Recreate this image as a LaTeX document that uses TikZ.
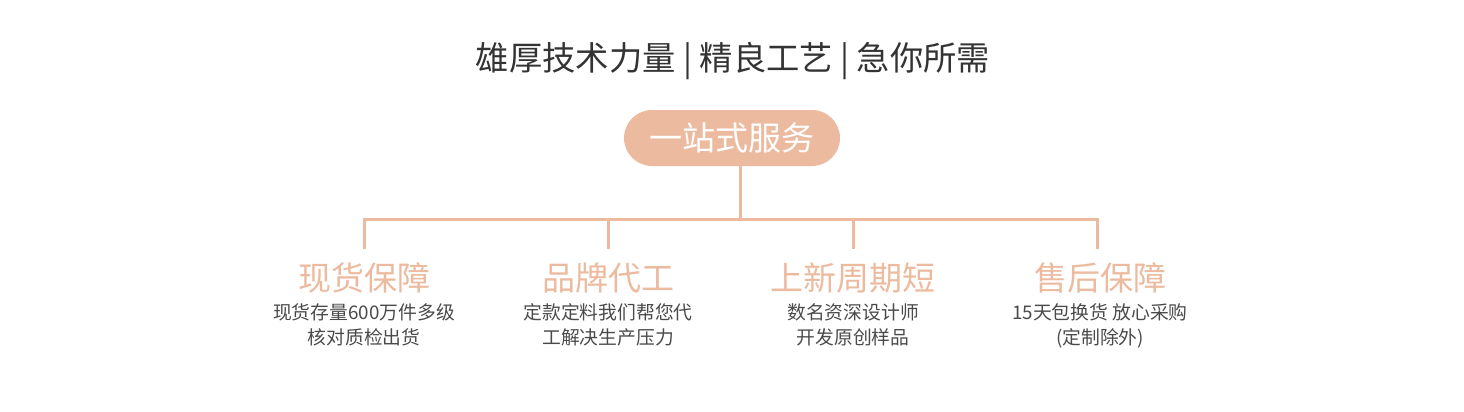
\documentclass[tikz,border=0pt]{standalone}
\usepackage{fontspec}
\setmainfont{Noto Sans CJK SC}
\usetikzlibrary{positioning,calc}
\definecolor{oneapricot}{HTML}{ECBA9E}
\definecolor{onegraphite}{HTML}{333333}
\definecolor{oneash}{HTML}{4A4A4A}

\begin{document}
\begin{tikzpicture}[x=1pt,y=-1pt,
  pill/.style={fill=oneapricot,rounded corners=28pt,minimum width=216pt,
               minimum height=56pt,inner sep=0pt,text=white,
               font=\fontsize{33}{33}\selectfont},
  head/.style={inner sep=0pt,text=oneapricot,font=\fontsize{33}{33}\selectfont},
  note/.style={inner sep=0pt,align=center,text=oneash,
               font=\fontsize{18.8}{24.5}\selectfont},
  link/.style={draw=oneapricot,line width=3pt}]
  \useasboundingbox (0,0) rectangle (1464,412);
  \node[inner sep=0pt,text=onegraphite,font=\fontsize{33.3}{33}\selectfont]
    (title) at (733,61) {雄厚技术力量 | 精良工艺 | 急你所需};
  \node[pill] (hub) at (732,138) {一站式服务};
  \coordinate (bus) at (740,219);
  % four columns
  \node[head] (h1) at (364,278) {现货保障};
  \node[head] (h2) at (608,278) {品牌代工};
  \node[head] (h3) at (853,278) {上新周期短};
  \node[head] (h4) at (1100,278) {售后保障};
  \node[note,below=10pt of h1] (n1) {现货存量600万件多级\\核对质检出货};
  \node[note,below=10pt of h2] (n2) {定款定料我们帮您代\\工解决生产压力};
  \node[note,below=10pt of h3] (n3) {数名资深设计师\\开发原创样品};
  \node[note,below=10pt of h4] (n4) {15天包换货 放心采购\\(定制除外)};
  \coordinate (d1) at (364,249);
  \coordinate (d2) at (608,249);
  \coordinate (d3) at (853,249);
  \coordinate (d4) at (1097,249);
  \draw[link] (hub.south -| bus) -- (bus);
  \draw[link] (d1) -- (d1 |- bus) -- (d4 |- bus) -- (d4);
  \draw[link] (d2) -- (d2 |- bus);
  \draw[link] (d3) -- (d3 |- bus);
\end{tikzpicture}
\end{document}
